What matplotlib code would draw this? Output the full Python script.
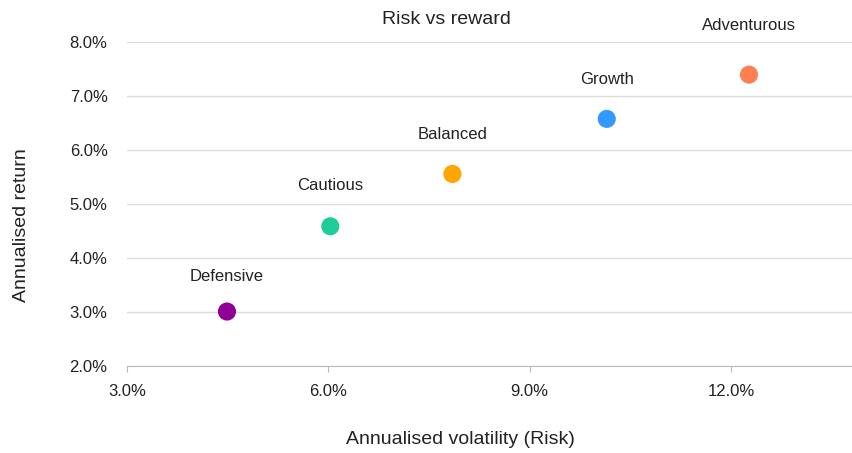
import matplotlib
matplotlib.use("Agg")
import matplotlib.pyplot as plt
from matplotlib.ticker import FuncFormatter

plt.rcParams['font.family'] = ['Liberation Sans', 'DejaVu Sans']

# data
portfolios = ['Defensive', 'Cautious', 'Balanced', 'Growth', 'Adventurous']
volatility = [4.49, 6.03, 7.85, 10.15, 12.27]
returns = [3.00, 4.58, 5.55, 6.57, 7.39]
colours = ['#8f0095', '#1ecc9c', '#ffa500', '#3399ff', '#ff7f50']
label_lift = [35, 41, 39, 39, 49]  # px above each dot

x_ticks = [3.0, 6.0, 9.0, 12.0]
y_ticks = [2.0, 3.0, 4.0, 5.0, 6.0, 7.0, 8.0]

fig = plt.figure(figsize=(8.53, 4.53), dpi=100)
ax = fig.add_axes([127/853, 1 - 365.5/453, 1 - 127/853, (365.5 - 41.7)/453])

ax.scatter(volatility, returns, s=170, c=colours, zorder=3, linewidths=0)
for name, xv, yv, lift in zip(portfolios, volatility, returns, label_lift):
    ax.annotate(name, (xv, yv), xytext=(0, lift), textcoords='offset pixels',
                ha='center', va='center', fontsize=12, color='#222222')

ax.set_xlim(3.0, 13.82)
ax.set_ylim(2.0, 8.0)
ax.set_xticks(x_ticks)
ax.set_yticks(y_ticks)
pct = FuncFormatter(lambda v, p: f'{v:.1f}%')
ax.xaxis.set_major_formatter(pct)
ax.yaxis.set_major_formatter(pct)

ax.grid(axis='y', color='#dddddd', linewidth=1)
ax.set_axisbelow(True)
for s in ['left', 'right', 'top']:
    ax.spines[s].set_visible(False)
ax.spines['bottom'].set_color('#bbbbbb')
ax.tick_params(axis='x', length=4, color='#bbbbbb', labelsize=12, labelcolor='#222222', pad=9)
ax.tick_params(axis='y', length=0, labelsize=12, labelcolor='#222222', pad=14)

fig.text(446/853, 1 - 20/453, 'Risk vs reward', ha='center', va='center', fontsize=14, color='#222222')
fig.text(460/853, 1 - 440/453, 'Annualised volatility (Risk)', ha='center', va='center', fontsize=14, color='#222222')
fig.text(22/853, 1 - 225/453, 'Annualised return', ha='center', va='center', fontsize=14, rotation=90, color='#222222')

fig.savefig('out.png', dpi=100)
